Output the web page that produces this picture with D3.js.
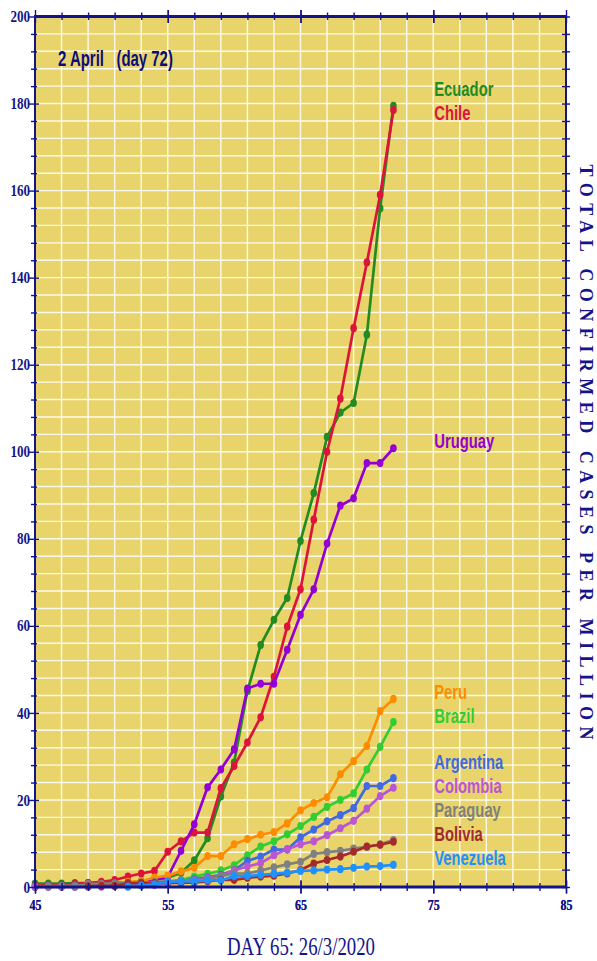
<!DOCTYPE html>
<html>
<head>
<meta charset="utf-8">
<script src="https://cdn.jsdelivr.net/npm/d3@7"></script>
<style>
  body { margin: 0; background: #ffffff; }
  svg text { font-family: "Liberation Serif", "DejaVu Serif", serif; }
</style>
</head>
<body>
<div id="canvas"></div>
<script>
/* Drawing config */
let svgWidth = 597;
let svgHeight = 961;
let plotLeft = 35, plotRight = 566, plotTop = 16.5, plotBottom = 887;
let navy = "#14148a";

/* Data: total confirmed cases per million, day 45 .. day 72 */
let days = [45, 46, 47, 48, 49, 50, 51, 52, 53, 54, 55, 56, 57, 58,
            59, 60, 61, 62, 63, 64, 65, 66, 67, 68, 69, 70, 71, 72];

let countries = ["Ecuador", "Chile", "Uruguay", "Peru", "Brazil",
                 "Argentina", "Colombia", "Paraguay", "Bolivia", "Venezuela"];

let colors = ["#228b22", "#dc143c", "#9400d3", "#ff8c00", "#32cd32",
              "#4169e1", "#ba55d3", "#808080", "#a52a2a", "#1e90ff"];

let ecuador = [0.8, 0.8, 0.8, 0.9, 0.9, 1.0, 1.0, 1.0, 1.3, 1.6, 2.1, 3.3, 6.1, 11.2,
               20.8, 28.6, 45.0, 55.6, 61.4, 66.4, 79.5, 90.5, 103.4, 109.0, 111.2, 126.9, 155.9, 179.5];
let chile = [0.26, 0.37, 0.5, 0.7, 0.9, 1.2, 1.6, 2.4, 3.1, 3.7, 8.1, 10.5, 12.5, 12.5,
             22.7, 27.8, 33.2, 39.0, 48.3, 59.8, 68.4, 84.4, 100.0, 112.2, 128.4, 143.5, 159.0, 178.5];
let uruguay = [null, null, null, null, null, null, null, null, 1.2, 1.7, 2.3, 8.3, 14.4, 22.9,
               27.0, 31.6, 45.6, 46.7, 46.7, 54.5, 62.5, 68.4, 78.9, 87.6, 89.3, 97.4, 97.4, 100.8];
let peru = [0.03, 0.18, 0.22, 0.28, 0.34, 0.52, 0.68, 1.17, 1.32, 2.18, 2.6, 3.6, 4.4, 7.1,
            7.1, 9.8, 11.0, 12.0, 12.6, 14.6, 17.6, 19.3, 20.6, 25.9, 28.9, 32.4, 40.4, 43.2];
let brazil = [0.06, 0.09, 0.12, 0.12, 0.16, 0.25, 0.37, 0.46, 0.72, 0.95, 1.1, 1.6, 2.4, 3.0,
              3.8, 5.0, 7.3, 9.3, 10.5, 12.1, 14.0, 16.1, 18.4, 20.0, 21.5, 27.0, 32.2, 37.9];
let argentina = [0.04, 0.18, 0.2, 0.27, 0.38, 0.42, 0.47, 0.69, 0.75, 1.0, 1.2, 1.4, 1.8, 2.2,
                 2.8, 3.8, 6.0, 7.0, 8.6, 8.6, 11.4, 13.2, 15.1, 16.5, 18.1, 23.2, 23.2, 25.0];
let colombia = [0.02, 0.02, 0.02, 0.02, 0.06, 0.06, 0.18, 0.18, 0.32, 0.48, 0.9, 1.1, 1.5, 2.0,
                2.5, 3.8, 4.7, 5.5, 7.3, 8.7, 9.8, 10.5, 11.9, 13.5, 15.2, 18.0, 20.9, 22.8];
let paraguay = [null, 0.14, 0.14, 0.14, 0.7, 0.7, 0.85, 0.85, 1.0, 1.1, 1.3, 1.5, 1.5, 1.8,
                2.5, 3.1, 3.1, 3.8, 4.5, 5.2, 5.8, 7.6, 8.0, 8.3, 8.8, 9.2, 9.8, 10.8];
let bolivia = [null, null, null, null, 0.17, 0.26, 0.26, 0.87, 0.87, 0.87, 0.96, 0.96, 1.04, 1.3,
               1.65, 1.65, 2.1, 2.4, 2.6, 3.1, 3.9, 5.4, 6.2, 7.0, 8.1, 9.3, 9.7, 10.4];
let venezuela = [null, null, null, null, null, null, null, 0.07, 0.35, 0.6, 1.16, 1.26, 1.26, 1.5,
                 1.5, 2.5, 2.5, 2.8, 3.0, 3.3, 3.7, 3.8, 4.0, 4.1, 4.4, 4.7, 4.8, 5.1];

let seriesValues = [ecuador, chile, uruguay, peru, brazil, argentina, colombia, paraguay, bolivia, venezuela];

let xTicksLabelled = [45, 55, 65, 75, 85];
let yTicksLabelled = [0, 20, 40, 60, 80, 100, 120, 140, 160, 180, 200];
let titleText = "2 April   (day 72)";
let xTitle = "DAY 65: 26/3/2020";
let yTitle = "TOTAL CONFIRMED CASES PER MILLION";
let labelDay = 75;

let series = countries.map(function(name, i) {
    return {
        name: name,
        color: colors[i],
        points: days.map(function(d, j) { return { day: d, value: seriesValues[i][j] }; })
                    .filter(function(p) { return p.value !== null; })
    };
});

/* Canvas */
let svg = d3.select("#canvas")
    .append("svg")
    .attr("width", svgWidth)
    .attr("height", svgHeight);

let xScale = d3.scaleLinear().domain([45, 85]).range([plotLeft, plotRight]);
let yScale = d3.scaleLinear().domain([0, 200]).range([plotBottom, plotTop]);

// plot background
svg.append("rect")
    .attr("x", plotLeft).attr("y", plotTop)
    .attr("width", plotRight - plotLeft).attr("height", plotBottom - plotTop)
    .attr("fill", "#e8d46a");

// grid: every 2 days, every 4 cases
let grid = svg.append("g");
grid.selectAll(".vgrid")
    .data(d3.range(47, 85, 2))
    .enter().append("line")
    .attr("x1", d => xScale(d)).attr("x2", d => xScale(d))
    .attr("y1", plotTop).attr("y2", plotBottom)
    .attr("stroke", "#ffffff").attr("stroke-opacity", 0.9).attr("stroke-width", 1.4);
grid.selectAll(".hgrid")
    .data(d3.range(4, 200, 4))
    .enter().append("line")
    .attr("x1", plotLeft).attr("x2", plotRight)
    .attr("y1", d => yScale(d)).attr("y2", d => yScale(d))
    .attr("stroke", "#ffffff").attr("stroke-opacity", 0.9).attr("stroke-width", 1.4);

// lines + dots
let line = d3.line()
    .x(d => xScale(d.day))
    .y(d => yScale(d.value));

let seriesG = svg.selectAll(".country")
    .data(series)
    .enter().append("g");

seriesG.append("path")
    .attr("d", d => line(d.points))
    .attr("fill", "none")
    .attr("stroke", d => d.color)
    .attr("stroke-width", 2.7)
    .attr("stroke-linejoin", "round");

seriesG.each(function(s) {
    d3.select(this).selectAll("ellipse")
        .data(s.points)
        .enter().append("ellipse")
        .attr("cx", d => xScale(d.day))
        .attr("cy", d => yScale(d.value))
        .attr("rx", 3.3).attr("ry", 4.1)
        .attr("fill", s.color);
});

/* Labels at the right, pushed apart so they do not overlap */
let gap = 24, lowest = 865;
let labels = series.map(function(s) {
    let last = s.points[s.points.length - 1];
    return { s: s, y: yScale(last.value) };
});
for (let it = 0; it < 300; it++) {
    labels.sort((a, b) => a.y - b.y);
    for (let k = 0; k < labels.length - 1; k++) {
        let over = gap - (labels[k + 1].y - labels[k].y);
        if (over > 0) {
            labels[k].y -= over / 2;
            labels[k + 1].y += over / 2;
        }
    }
    labels.forEach(l => { if (l.y > lowest) l.y = lowest; });
}

svg.selectAll(".label")
    .data(labels)
    .enter().append("text")
    .attr("transform", d => "translate(" + (xScale(labelDay) + 1) + "," + d.y + ") scale(0.74,1)")
    .attr("fill", d => d.s.color)
    .style("font-family", "'Liberation Sans', Arial, sans-serif")
    .style("font-weight", "bold")
    .style("font-size", "20px")
    .text(d => d.s.name);

/* Axes */
function styleAxis(g) {
    g.select(".domain").remove();
    g.selectAll("line").attr("stroke", navy).attr("stroke-width", 1.4);
    g.selectAll("text")
        .attr("fill", navy)
        .style("font-family", "'Liberation Serif', serif")
        .style("font-weight", "bold")
        .style("font-size", "16px");
}

let yTickVals = d3.range(0, 201, 4);
let xTickVals = d3.range(45, 86, 2).concat([55, 65, 75]);

let leftAxis = svg.append("g")
    .attr("transform", "translate(" + plotLeft + ",0)")
    .call(d3.axisLeft(yScale).tickValues(yTickVals)
        .tickFormat(d => yTicksLabelled.includes(d) ? d : "").tickSize(5).tickPadding(5))
    .call(styleAxis);
leftAxis.selectAll(".tick line")
    .attr("x1", d => yTicksLabelled.includes(d) ? 4 : 2)
    .attr("x2", d => yTicksLabelled.includes(d) ? -6 : -4);
leftAxis.selectAll(".tick text").attr("transform", "scale(0.82,1)").attr("x", -6);

let rightAxis = svg.append("g")
    .attr("transform", "translate(" + plotRight + ",0)")
    .call(d3.axisRight(yScale).tickValues(yTickVals).tickFormat("").tickSize(4))
    .call(styleAxis);
rightAxis.selectAll(".tick line").attr("x1", -4);

let topAxis = svg.append("g")
    .attr("transform", "translate(0," + plotTop + ")")
    .call(d3.axisTop(xScale).tickValues(xTickVals).tickFormat("").tickSize(4))
    .call(styleAxis);
topAxis.selectAll(".tick line")
    .attr("y1", d => xTicksLabelled.includes(d) ? 6.5 : 3.5)
    .attr("y2", d => xTicksLabelled.includes(d) ? -6.5 : -4);

let bottomAxis = svg.append("g")
    .attr("transform", "translate(0," + plotBottom + ")")
    .call(d3.axisBottom(xScale).tickValues(d3.range(45, 86, 2).concat(xTicksLabelled))
        .tickFormat(d => (xTicksLabelled.includes(d) ? d : "")).tickSize(5).tickPadding(7))
    .call(styleAxis);
bottomAxis.selectAll(".tick line")
    .attr("y1", d => xTicksLabelled.includes(d) ? -6.5 : -4)
    .attr("y2", d => xTicksLabelled.includes(d) ? 6.5 : 4);
bottomAxis.selectAll(".tick text").style("font-size", "15px").attr("transform", "scale(0.8,1)")
    .attr("x", 0);
bottomAxis.selectAll(".tick").each(function(d) {
    d3.select(this).select("text").attr("x", 0);
});

// frame lines
svg.append("line").attr("x1", plotLeft - 1).attr("x2", plotRight + 1)
    .attr("y1", plotTop).attr("y2", plotTop).attr("stroke", navy).attr("stroke-width", 2.8);
svg.append("line").attr("x1", plotLeft - 1).attr("x2", plotRight + 1)
    .attr("y1", plotBottom).attr("y2", plotBottom).attr("stroke", navy).attr("stroke-width", 2.8);
svg.append("line").attr("x1", plotLeft).attr("x2", plotLeft)
    .attr("y1", plotTop).attr("y2", plotBottom).attr("stroke", navy).attr("stroke-width", 2);
svg.append("line").attr("x1", plotRight).attr("x2", plotRight)
    .attr("y1", plotTop).attr("y2", plotBottom).attr("stroke", navy).attr("stroke-width", 2);

/* Titles */
svg.append("text")
    .attr("transform", "translate(58,66) scale(0.68,1)")
    .attr("fill", "#0c0c7c")
    .attr("xml:space", "preserve")
    .style("white-space", "pre")
    .style("font-family", "'Liberation Sans', Arial, sans-serif")
    .style("font-weight", "bold")
    .style("font-size", "22px")
    .text(titleText);

svg.append("text")
    .attr("x", 301).attr("y", 955)
    .attr("text-anchor", "middle")
    .attr("fill", navy)
    .attr("textLength", 148)
    .attr("lengthAdjust", "spacingAndGlyphs")
    .style("font-size", "25px")
    .text(xTitle);

svg.append("text")
    .attr("transform", "translate(580," + 452 + ") rotate(90)")
    .attr("text-anchor", "middle")
    .attr("fill", navy)
    .attr("textLength", 575)
    .attr("lengthAdjust", "spacing")
    .style("font-weight", "bold")
    .style("font-size", "18px")
    .text(yTitle);
</script>
</body>
</html>
